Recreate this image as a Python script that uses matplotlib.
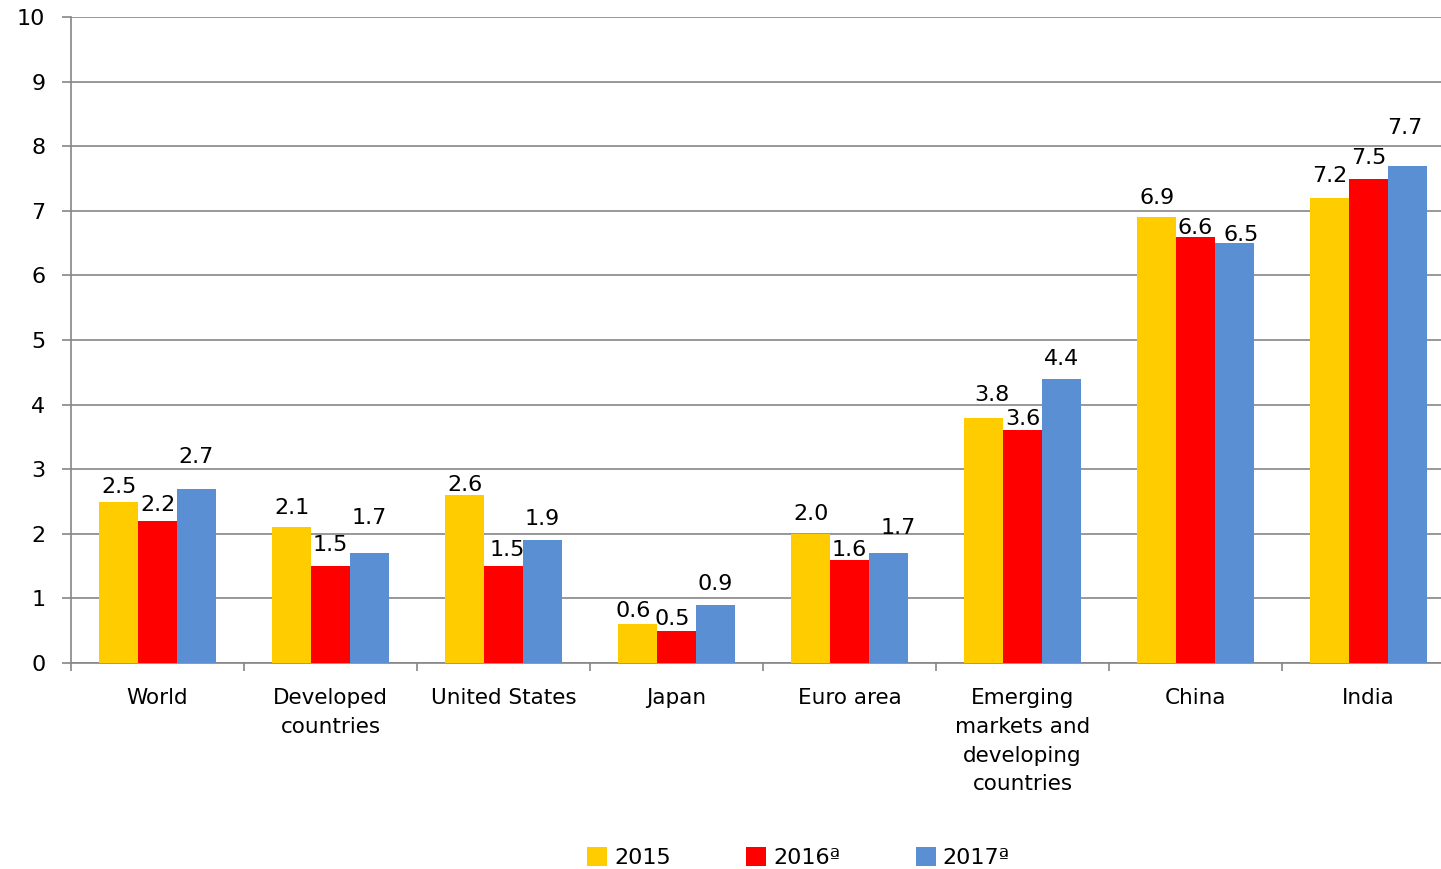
import numpy as np
import matplotlib
matplotlib.use('Agg')
import matplotlib.pyplot as plt
from matplotlib.patches import Patch

plt.rcParams['font.family'] = ['DejaVu Sans']

# data
categories = ['World', 'Developed\ncountries', 'United States', 'Japan', 'Euro area',
              'Emerging\nmarkets and\ndeveloping\ncountries', 'China', 'India']
v2015 = [2.5, 2.1, 2.6, 0.6, 2.0, 3.8, 6.9, 7.2]
v2016 = [2.2, 1.5, 1.5, 0.5, 1.6, 3.6, 6.6, 7.5]
v2017 = [2.7, 1.7, 1.9, 0.9, 1.7, 4.4, 6.5, 7.7]
series_names = ['2015', '2016ª', '2017ª']
colors = ['#FFCC00', '#FF0000', '#5B8FD4']

# label placement (pixels above bar top / sideways), as in the original
label_dy = [[17, 21, 12.5, 15, 22, 25, 21, 24],
            [18, 23, 18, 14, 12, 13, 11, 23],
            [34, 37, 23, 23, 27, 22, 10, 40]]
label_dx = [[0, 0, 0, -4, 0, 8, 0, 0],
            [0, 0, 4, -4, 0, 0, 0, 0],
            [0, 0, 0, 0, 10, 0, 7, -3]]

fig = plt.figure(figsize=(14.41, 8.69), dpi=100)
ax = fig.add_axes([0.0493, 0.237, 0.9605, 0.7434])

x = np.arange(len(categories))
w = 0.225
px = 72.0 / fig.dpi
for i, (vals, c) in enumerate(zip([v2015, v2016, v2017], colors)):
    pos = x + (i - 1) * w
    ax.bar(pos, vals, width=w, color=c, zorder=3)
    for j, (p, v) in enumerate(zip(pos, vals)):
        ax.annotate('%.1f' % v, xy=(p, v),
                    xytext=(label_dx[i][j] * px, (label_dy[i][j] - 8) * px),
                    textcoords='offset points', ha='center', va='baseline',
                    fontsize=16, zorder=4)

ax.set_xlim(-0.5, len(categories) - 0.5)
ax.set_ylim(0, 10)
ax.set_yticks(range(0, 11))
ax.yaxis.grid(True, color='#868686', linewidth=1.2, zorder=0)
ax.tick_params(axis='y', labelsize=16, length=6.5, color='#868686', width=1.2, pad=12)

# category boundaries as ticks
ax.set_xticks(np.arange(-0.5, len(categories) + 0.5, 1))
ax.set_xticklabels([])
ax.set_xticks(x, minor=True)
ax.set_xticklabels(categories, minor=True, fontsize=15.5, linespacing=1.55, va='top')
ax.tick_params(axis='x', which='major', length=6, color='#868686', width=1.2)
ax.tick_params(axis='x', which='minor', length=0, pad=18)

for s in ['top', 'right']:
    ax.spines[s].set_visible(False)
for s in ['left', 'bottom']:
    ax.spines[s].set_color('#868686')
    ax.spines[s].set_linewidth(1.2)

handles = [Patch(facecolor=c, label=n) for c, n in zip(colors, series_names)]
fig.legend(handles=handles, loc='center', bbox_to_anchor=(0.554, 0.013), ncol=3,
           frameon=False, fontsize=16, handlelength=0.9, handleheight=0.9,
           handletextpad=0.3, columnspacing=3.4)

fig.savefig('out.png', dpi=100)
